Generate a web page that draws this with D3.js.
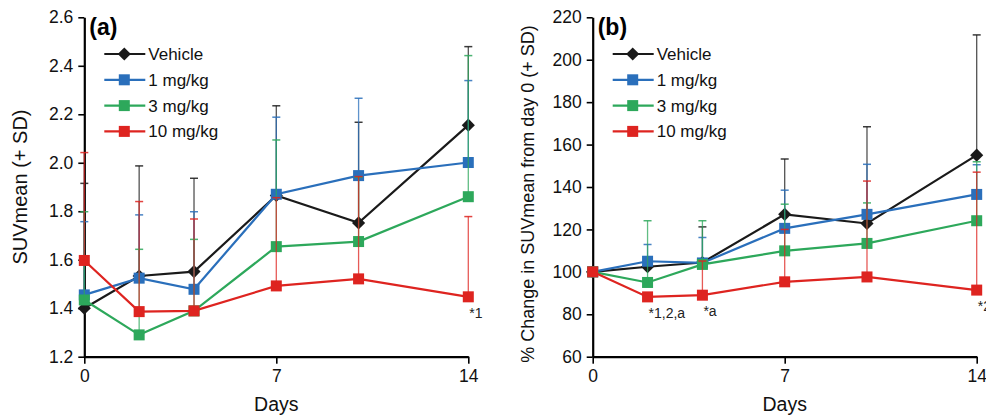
<!DOCTYPE html>
<html>
<head>
<meta charset="utf-8">
<script src="https://cdn.jsdelivr.net/npm/d3@7"></script>
<style>
  body { margin: 0; background: #fff; }
  svg { font-family: "Liberation Sans", Arial, Helvetica, sans-serif; }
</style>
</head>
<body>
<div id="chart"></div>
<script>
var width = 986
var height = 416

// days of imaging
var days = [0, 2, 4, 7, 10, 14]
var seriesNames = ["Vehicle", "1 mg/kg", "3 mg/kg", "10 mg/kg"]
var seriesColors = ["#1a1a1a", "#2a6fbb", "#2da85b", "#de2420"]

// panel (a): SUVmean
var suvVehicle = [1.40, 1.533, 1.551, 1.865, 1.752, 2.155]
var suv1 = [1.455, 1.524, 1.478, 1.870, 1.947, 2.001]
var suv3 = [1.434, 1.290, 1.389, 1.654, 1.675, 1.860]
var suv10 = [1.597, 1.386, 1.389, 1.492, 1.521, 1.447]
// +SD
var suvVehicleSD = [0.515, 0.454, 0.385, 0.370, 0.415, 0.324]
var suv1SD = [0.302, 0.261, 0.320, 0.318, 0.319, 0.338]
var suv3SD = [0.364, 0.353, 0.295, 0.440, 0.265, 0.582]
var suv10SD = [0.445, 0.454, 0.379, 0.364, 0.422, 0.331]

// panel (b): % change from day 0
var pctVehicle = [100, 102.4, 104.4, 127.1, 122.8, 155.0]
var pct1 = [100, 105.0, 104.2, 120.5, 127.1, 136.5]
var pct3 = [100, 95.0, 103.5, 109.9, 113.4, 124.1]
var pct10 = [100, 88.2, 89.0, 95.3, 97.6, 91.4]
var pctVehicleSD = [0, 0, 16.8, 26.1, 45.6, 56.7]
var pct1SD = [0, 7.9, 12.0, 18.0, 23.6, 14.0]
var pct3SD = [0, 29.1, 20.6, 22.0, 19.1, 27.8]
var pct10SD = [0, 0, 16.1, 24.7, 45.2, 55.6]

var suvTicks = [1.2, 1.4, 1.6, 1.8, 2.0, 2.2, 2.4, 2.6]
var pctTicks = [60, 80, 100, 120, 140, 160, 180, 200, 220]
var dayTicks = [0, 7, 14]

// significance notes: [series index, day index, text]
var suvNotes = [[3, 5, "*1"]]
var pctNotes = [[3, 1, "*1,2,a"], [3, 2, "*a"], [3, 5, "*2"]]

var svg = d3.select("#chart").append("svg")
    .attr("width", width)
    .attr("height", height)

function drawPanel(left, opts) {
    var x = d3.scaleLinear().domain([0, 14]).range([left, left + 384])
    var y = d3.scaleLinear().domain(opts.domain).range([356.7, 17.3])
    var g = svg.append("g")

    //axes
    g.append("g")
        .attr("transform", "translate(" + left + ",0)")
        .call(d3.axisLeft(y).tickValues(opts.ticks).tickFormat(opts.fmt).tickSize(6).tickSizeOuter(0).tickPadding(5))
    g.append("g")
        .attr("transform", "translate(0," + 356.7 + ")")
        .call(d3.axisBottom(x).tickValues(dayTicks).tickSize(7).tickSizeOuter(0).tickPadding(6))
    g.selectAll(".domain").attr("stroke", "#000").attr("stroke-width", 2.2)
    g.selectAll(".tick line").attr("stroke", "#000").attr("stroke-width", 1.6)
    g.selectAll(".tick text").attr("font-size", 17.5).attr("fill", "#111")
        .attr("font-family", "Liberation Sans, Arial, sans-serif")

    g.append("text")
        .attr("x", left + 192).attr("y", 411)
        .attr("text-anchor", "middle")
        .attr("font-size", 19.5).attr("fill", "#111")
        .text("Days")
    g.append("text")
        .attr("transform", "translate(" + opts.titleX + "," + opts.titleY + ") rotate(-90)")
        .attr("text-anchor", "middle")
        .attr("font-size", opts.titleSize).attr("fill", "#111")
        .text(opts.title)
    g.append("text")
        .attr("x", left + opts.labelDx).attr("y", 35)
        .attr("font-size", 23).attr("font-weight", "bold")
        .text(opts.label)

    var line = d3.line()
        .x(function(d, i) { return x(days[i]) })
        .y(function(d) { return y(d) })

    opts.values.forEach(function(vals, s) {
        var color = seriesColors[s]
        var sds = opts.sds[s]
        var sg = g.append("g")
        sg.append("path")
            .attr("d", line(vals))
            .attr("fill", "none")
            .attr("stroke", color)
            .attr("stroke-width", 2.2)

        var pts = vals.map(function(v, i) { return {day: days[i], v: v, sd: sds[i]} })
        var markers = sg.selectAll(".m").data(pts).enter()
        if (s == 0) {
            markers.append("path")
                .attr("d", d3.symbol(d3.symbolDiamond2, 110)())
                .attr("transform", function(d) { return "translate(" + x(d.day) + "," + y(d.v) + ")" })
                .attr("fill", color)
        } else {
            markers.append("rect")
                .attr("x", function(d) { return x(d.day) - 5.5 })
                .attr("y", function(d) { return y(d.v) - 5.5 })
                .attr("width", 11).attr("height", 11)
                .attr("fill", color)
        }

        //error bars (+SD only)
        var eb = sg.selectAll(".e").data(pts.filter(function(d) { return d.sd > 0 })).enter()
        eb.append("line")
            .attr("x1", function(d) { return x(d.day) })
            .attr("x2", function(d) { return x(d.day) })
            .attr("y1", function(d) { return y(d.v) })
            .attr("y2", function(d) { return y(d.v + d.sd) })
            .attr("stroke", color).attr("stroke-width", 1.3).attr("opacity", 0.75)
        eb.append("line")
            .attr("x1", function(d) { return x(d.day) - 4 })
            .attr("x2", function(d) { return x(d.day) + 4 })
            .attr("y1", function(d) { return y(d.v + d.sd) })
            .attr("y2", function(d) { return y(d.v + d.sd) })
            .attr("stroke", color).attr("stroke-width", 1.5).attr("opacity", 0.85)
    })

    //notes
    opts.notes.forEach(function(n) {
        var v = opts.values[n[0]][n[1]]
        g.append("text")
            .attr("x", x(days[n[1]]) + 1)
            .attr("y", y(v) + 21)
            .attr("font-size", 14).attr("fill", "#222")
            .text(n[2])
    })

    //legend
    seriesNames.forEach(function(name, s) {
        var ly = 54 + s * 25.8
        var lx = left + opts.legendDx
        g.append("line")
            .attr("x1", lx).attr("x2", lx + 41)
            .attr("y1", ly).attr("y2", ly)
            .attr("stroke", seriesColors[s]).attr("stroke-width", 2.2)
        if (s == 0) {
            g.append("path")
                .attr("d", d3.symbol(d3.symbolDiamond2, 110)())
                .attr("transform", "translate(" + (lx + 20) + "," + ly + ")")
                .attr("fill", seriesColors[s])
        } else {
            g.append("rect")
                .attr("x", lx + 14.5).attr("y", ly - 5.5)
                .attr("width", 11).attr("height", 11)
                .attr("fill", seriesColors[s])
        }
        g.append("text")
            .attr("x", lx + 44).attr("y", ly + 6)
            .attr("font-size", 17).attr("fill", "#111")
            .text(name)
    })
}

drawPanel(84.3, {
    domain: [1.2, 2.6],
    ticks: suvTicks,
    fmt: d3.format(".1f"),
    values: [suvVehicle, suv1, suv3, suv10],
    sds: [suvVehicleSD, suv1SD, suv3SD, suv10SD],
    notes: suvNotes,
    title: "SUVmean (+ SD)",
    titleSize: 20,
    titleX: 27, titleY: 187,
    label: "(a)",
    labelDx: 5,
    legendDx: 20
})

drawPanel(592.7, {
    domain: [60, 220],
    ticks: pctTicks,
    fmt: d3.format("d"),
    values: [pctVehicle, pct1, pct3, pct10],
    sds: [pctVehicleSD, pct1SD, pct3SD, pct10SD],
    notes: pctNotes,
    title: "% Change in SUVmean from day 0 (+ SD)",
    titleSize: 18,
    titleX: 534, titleY: 194,
    label: "(b)",
    labelDx: 5,
    legendDx: 20
})
</script>
</body>
</html>
